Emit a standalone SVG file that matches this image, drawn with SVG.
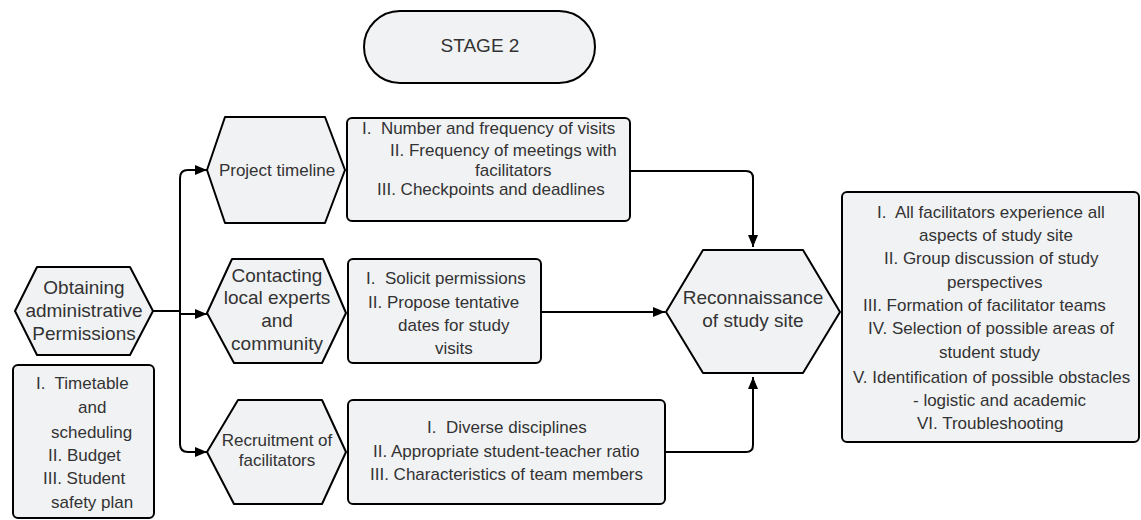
<svg xmlns="http://www.w3.org/2000/svg" width="1141" height="520" viewBox="0 0 1141 520">
<style>
.shape{fill:#f1f2f4;stroke:#000;stroke-width:2;stroke-linejoin:round}
.t{font-family:"Liberation Sans",Arial,sans-serif;font-size:17px;fill:#333}
.tl{font-family:"Liberation Sans",Arial,sans-serif;font-size:19px;fill:#333}
.c{text-anchor:middle}
.conn{fill:none;stroke:#000;stroke-width:2;stroke-linejoin:round}
</style>
<defs>
<marker id="arr" markerWidth="12" markerHeight="10" refX="12" refY="5" orient="auto" markerUnits="userSpaceOnUse">
<path d="M0,0 L12,5 L0,10 Z" fill="#000"/>
</marker>
</defs>
<rect width="1141" height="520" fill="#fff"/>

<g id="connectors">
<path class="conn" d="M153,311 H180"/>
<path class="conn" d="M180,311 V178 Q180,170 188,170 H207" marker-end="url(#arr)"/>
<path class="conn" d="M180,311 V444 Q180,452 188,452 H207" marker-end="url(#arr)"/>
<path class="conn" d="M180,314 H207" marker-end="url(#arr)"/>
<path class="conn" d="M630,171 H746 Q753,171 753,178 V247" marker-end="url(#arr)"/>
<path class="conn" d="M541,312 H665" marker-end="url(#arr)"/>
<path class="conn" d="M665,452 H746 Q753,452 753,445 V377" marker-end="url(#arr)"/>
</g>

<g id="stage2">
<rect class="shape" x="364" y="11" width="231" height="72" rx="36"/>
<text class="tl c" x="480" y="52">STAGE 2</text>
</g>

<g id="obtaining">
<path class="shape" d="M15,311 L37,267 H130 L153,311 L130,355 H37 Z"/>
<text class="tl c" x="84" y="294">Obtaining</text>
<text class="tl c" x="84" y="317">administrative</text>
<text class="tl c" x="84" y="340">Permissions</text>
</g>

<g id="obtaining-list">
<rect class="shape" x="13" y="365" width="141" height="153" rx="5"/>
<text class="t" x="36" y="389" xml:space="preserve">I.  Timetable</text>
<text class="t" x="78" y="413">and</text>
<text class="t" x="51" y="438">scheduling</text>
<text class="t" x="48" y="461">II. Budget</text>
<text class="t" x="43" y="484">III. Student</text>
<text class="t" x="51" y="508">safety plan</text>
</g>

<g id="project-timeline">
<path class="shape" d="M207,170 L225,117 H325 L345,170 L325,223 H225 Z"/>
<text class="t c" x="277" y="176">Project timeline</text>
</g>

<g id="timeline-list">
<rect class="shape" x="347" y="118" width="283" height="103" rx="5"/>
<text class="t" x="362" y="134" xml:space="preserve">I.  Number and frequency of visits</text>
<text class="t" x="390" y="156">II. Frequency of meetings with</text>
<text class="t" x="475" y="176">facilitators</text>
<text class="t" x="377" y="195">III. Checkpoints and deadlines</text>
</g>

<g id="contacting">
<path class="shape" d="M207,313 L232,259 H323 L346,313 L322,363 H234 Z"/>
<text class="tl c" x="277" y="282">Contacting</text>
<text class="tl c" x="277" y="304">local experts</text>
<text class="tl c" x="277" y="327">and</text>
<text class="tl c" x="277" y="350">community</text>
</g>

<g id="contacting-list">
<rect class="shape" x="348" y="259" width="193" height="104" rx="5"/>
<text class="t" x="366" y="284" xml:space="preserve">I.  Solicit permissions</text>
<text class="t" x="368" y="308">II. Propose tentative</text>
<text class="t" x="398" y="331">dates for study</text>
<text class="t" x="435" y="354">visits</text>
</g>

<g id="recruitment">
<path class="shape" d="M207,452 L238,400 H322 L346,452 L322,504 H234 Z"/>
<text class="t c" x="277" y="446">Recruitment of</text>
<text class="t c" x="277" y="466">facilitators</text>
</g>

<g id="recruitment-list">
<rect class="shape" x="348" y="400" width="317" height="104" rx="5"/>
<text class="t" x="427" y="433" xml:space="preserve">I.  Diverse disciplines</text>
<text class="t" x="373" y="457">II. Appropriate student-teacher ratio</text>
<text class="t" x="370" y="480">III. Characteristics of team members</text>
</g>

<g id="reconnaissance">
<path class="shape" d="M666,312 L703,250 H803 L840,312 L803,373 H703 Z"/>
<text class="tl c" x="753" y="304">Reconnaissance</text>
<text class="tl c" x="753" y="327">of study site</text>
</g>

<g id="reconnaissance-list">
<rect class="shape" x="842" y="192" width="297" height="250" rx="5"/>
<text class="t" x="877" y="218" xml:space="preserve">I.  All facilitators experience all</text>
<text class="t" x="919" y="241">aspects of study site</text>
<text class="t" x="884" y="264">II. Group discussion of study</text>
<text class="t" x="947" y="288">perspectives</text>
<text class="t" x="863" y="311">III. Formation of facilitator teams</text>
<text class="t" x="868" y="334">IV. Selection of possible areas of</text>
<text class="t" x="939" y="358">student study</text>
<text class="t" x="853" y="383">V. Identification of possible obstacles</text>
<text class="t" x="913" y="406">- logistic and academic</text>
<text class="t" x="917" y="429">VI. Troubleshooting</text>
</g>
</svg>
